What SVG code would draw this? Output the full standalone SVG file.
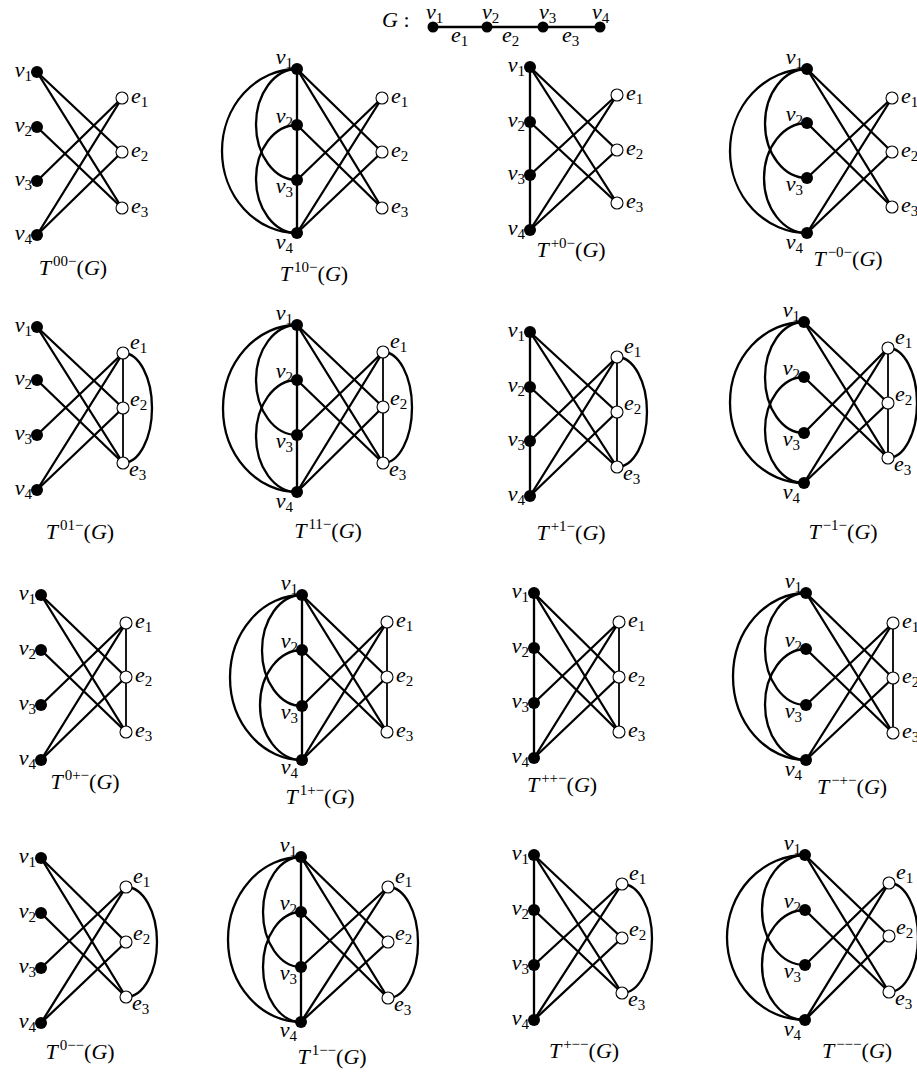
<svg xmlns="http://www.w3.org/2000/svg" width="917" height="1073" viewBox="0 0 917 1073">
<style>
.ln{stroke:#000;stroke-width:2.3;fill:none;stroke-linecap:round}
.le{stroke:#000;stroke-width:1.8;fill:none}
.v{fill:#000}
.e{fill:#fff;stroke:#000;stroke-width:1.1}
.m{font-family:"Liberation Serif",serif;font-style:italic;font-size:22px;fill:#000}
.s{font-style:normal;font-size:15px}
.p{font-style:normal;font-size:15px}
.u{font-style:normal}
.r{text-anchor:end}
.c{text-anchor:middle}
</style>
<rect width="917" height="1073" fill="#fff"/>
<g id="connectors">
<g id="c-G"><path class="ln" d="M433 27H600"/></g>
<g id="c-p1">
<path class="ln" d="M37 72L122 152"/><path class="ln" d="M37 72L122 208"/><path class="ln" d="M37 127L122 208"/><path class="ln" d="M37 181L122 98"/><path class="ln" d="M37 235L122 98"/><path class="ln" d="M37 235L122 152"/>
</g>
<g id="c-p2">
<path class="ln" d="M297 69L382 152"/><path class="ln" d="M297 69L382 208"/><path class="ln" d="M297 125L382 208"/><path class="ln" d="M297 180L382 98"/><path class="ln" d="M297 233L382 98"/><path class="ln" d="M297 233L382 152"/>
<path class="ln" d="M297 69V233"/><path class="ln" d="M297 69A41 55.5 0 0 0 297 180"/><path class="ln" d="M297 125A41 54 0 0 0 297 233"/><path class="ln" d="M297 69A75 82 0 0 0 297 233"/>
</g>
<g id="c-p3">
<path class="ln" d="M530 67L617 150"/><path class="ln" d="M530 67L617 203"/><path class="ln" d="M530 122L617 203"/><path class="ln" d="M530 175L617 95"/><path class="ln" d="M530 230L617 95"/><path class="ln" d="M530 230L617 150"/>
<path class="ln" d="M530 67V230"/>
</g>
<g id="c-p4">
<path class="ln" d="M807 69L892 152"/><path class="ln" d="M807 69L892 207"/><path class="ln" d="M807 123L892 207"/><path class="ln" d="M807 178L892 98"/><path class="ln" d="M807 233L892 98"/><path class="ln" d="M807 233L892 152"/>
<path class="ln" d="M807 69A42 54.5 0 0 0 807 178"/><path class="ln" d="M807 123A43 55 0 0 0 807 233"/><path class="ln" d="M807 69A77 82 0 0 0 807 233"/>
</g>
<g id="c-p5">
<path class="ln" d="M37 327L123 408"/><path class="ln" d="M37 327L123 463"/><path class="ln" d="M37 380L123 463"/><path class="ln" d="M37 435L123 353"/><path class="ln" d="M37 490L123 353"/><path class="ln" d="M37 490L123 408"/>
<path class="le" d="M123 353V463"/><path class="ln" d="M123 353A29 55 0 0 1 123 463"/>
</g>
<g id="c-p6">
<path class="ln" d="M297 325L383 407"/><path class="ln" d="M297 325L383 463"/><path class="ln" d="M297 380L383 463"/><path class="ln" d="M297 435L383 352"/><path class="ln" d="M297 492L383 352"/><path class="ln" d="M297 492L383 407"/>
<path class="ln" d="M297 325V492"/><path class="ln" d="M297 325A41 55 0 0 0 297 435"/><path class="ln" d="M297 380A41 56 0 0 0 297 492"/><path class="ln" d="M297 325A74 83.5 0 0 0 297 492"/>
<path class="le" d="M383 352V463"/><path class="ln" d="M383 352A29 55.5 0 0 1 383 463"/>
</g>
<g id="c-p7">
<path class="ln" d="M530 332L617 412"/><path class="ln" d="M530 332L617 467"/><path class="ln" d="M530 387L617 467"/><path class="ln" d="M530 441L617 357"/><path class="ln" d="M530 496L617 357"/><path class="ln" d="M530 496L617 412"/>
<path class="ln" d="M530 332V496"/>
<path class="le" d="M617 357V467"/><path class="ln" d="M617 357A30 55 0 0 1 617 467"/>
</g>
<g id="c-p8">
<path class="ln" d="M804 322L888 403"/><path class="ln" d="M804 322L888 458"/><path class="ln" d="M804 377L888 458"/><path class="ln" d="M804 433L888 348"/><path class="ln" d="M804 483L888 348"/><path class="ln" d="M804 483L888 403"/>
<path class="ln" d="M804 322A39 55.5 0 0 0 804 433"/><path class="ln" d="M804 377A39 53 0 0 0 804 483"/><path class="ln" d="M804 322A74 80.5 0 0 0 804 483"/>
<path class="le" d="M888 348V458"/><path class="ln" d="M888 348A29 55 0 0 1 888 458"/>
</g>
<g id="c-p9">
<path class="ln" d="M41 595L126 677"/><path class="ln" d="M41 595L126 732"/><path class="ln" d="M41 650L126 732"/><path class="ln" d="M41 705L126 623"/><path class="ln" d="M41 760L126 623"/><path class="ln" d="M41 760L126 677"/>
<path class="le" d="M126 623V732"/>
</g>
<g id="c-p10">
<path class="ln" d="M302 595L387 677"/><path class="ln" d="M302 595L387 732"/><path class="ln" d="M302 650L387 732"/><path class="ln" d="M302 706L387 622"/><path class="ln" d="M302 760L387 622"/><path class="ln" d="M302 760L387 677"/>
<path class="ln" d="M302 595V760"/><path class="ln" d="M302 595A40 55.5 0 0 0 302 706"/><path class="ln" d="M302 650A42 55 0 0 0 302 760"/><path class="ln" d="M302 595A72 82.5 0 0 0 302 760"/>
<path class="le" d="M387 622V732"/>
</g>
<g id="c-p11">
<path class="ln" d="M534 593L619 677"/><path class="ln" d="M534 593L619 732"/><path class="ln" d="M534 648L619 732"/><path class="ln" d="M534 703L619 622"/><path class="ln" d="M534 758L619 622"/><path class="ln" d="M534 758L619 677"/>
<path class="ln" d="M534 593V758"/>
<path class="le" d="M619 622V732"/>
</g>
<g id="c-p12">
<path class="ln" d="M806 593L893 678"/><path class="ln" d="M806 593L893 733"/><path class="ln" d="M806 649L893 733"/><path class="ln" d="M806 705L893 623"/><path class="ln" d="M806 760L893 623"/><path class="ln" d="M806 760L893 678"/>
<path class="ln" d="M806 593A41 56 0 0 0 806 705"/><path class="ln" d="M806 649A41 55.5 0 0 0 806 760"/><path class="ln" d="M806 593A73 83.5 0 0 0 806 760"/>
<path class="le" d="M893 623V733"/>
</g>
<g id="c-p13">
<path class="ln" d="M41 858L126 942"/><path class="ln" d="M41 858L126 997"/><path class="ln" d="M41 913L126 997"/><path class="ln" d="M41 968L126 887"/><path class="ln" d="M41 1023L126 887"/><path class="ln" d="M41 1023L126 942"/>
<path class="ln" d="M126 887A31 55 0 0 1 126 997"/>
</g>
<g id="c-p14">
<path class="ln" d="M301 857L388 942"/><path class="ln" d="M301 857L388 998"/><path class="ln" d="M301 912L388 998"/><path class="ln" d="M301 967L388 887"/><path class="ln" d="M301 1022L388 887"/><path class="ln" d="M301 1022L388 942"/>
<path class="ln" d="M301 857V1022"/><path class="ln" d="M301 857A38 55 0 0 0 301 967"/><path class="ln" d="M301 912A38 55 0 0 0 301 1022"/><path class="ln" d="M301 857A73 82.5 0 0 0 301 1022"/>
<path class="ln" d="M388 887A30 55.5 0 0 1 388 998"/>
</g>
<g id="c-p15">
<path class="ln" d="M534 855L622 938"/><path class="ln" d="M534 855L622 993"/><path class="ln" d="M534 910L622 993"/><path class="ln" d="M534 965L622 884"/><path class="ln" d="M534 1020L622 884"/><path class="ln" d="M534 1020L622 938"/>
<path class="ln" d="M534 855V1020"/>
<path class="ln" d="M622 884A30 54.5 0 0 1 622 993"/>
</g>
<g id="c-p16">
<path class="ln" d="M805 855L889 936"/><path class="ln" d="M805 855L889 992"/><path class="ln" d="M805 910L889 992"/><path class="ln" d="M805 965L889 883"/><path class="ln" d="M805 1020L889 883"/><path class="ln" d="M805 1020L889 936"/>
<path class="ln" d="M805 855A43 55 0 0 0 805 965"/><path class="ln" d="M805 910A43 55 0 0 0 805 1020"/><path class="ln" d="M805 855A78 82.5 0 0 0 805 1020"/>
<path class="ln" d="M889 883A29 54.5 0 0 1 889 992"/>
</g>
</g>

<g id="G">
<text class="m" x="382" y="27">G <tspan class="u">:</tspan></text>
<g id="G-v1"><circle class="v" cx="433" cy="27" r="5.5"/><text class="m" x="426" y="19">v<tspan class="s" dy="4">1</tspan></text></g>
<g id="G-v2"><circle class="v" cx="487" cy="27" r="5.5"/><text class="m" x="482" y="19">v<tspan class="s" dy="4">2</tspan></text></g>
<g id="G-v3"><circle class="v" cx="543" cy="27" r="5.5"/><text class="m" x="539" y="19">v<tspan class="s" dy="4">3</tspan></text></g>
<g id="G-v4"><circle class="v" cx="600" cy="27" r="5.5"/><text class="m" x="592" y="19">v<tspan class="s" dy="4">4</tspan></text></g>
<text class="m" x="451" y="42">e<tspan class="s" dy="4">1</tspan></text>
<text class="m" x="502" y="42">e<tspan class="s" dy="4">2</tspan></text>
<text class="m" x="562" y="42">e<tspan class="s" dy="4">3</tspan></text>
</g>

<g id="p1">
<g id="p1-v1"><circle class="v" cx="37" cy="72" r="6"/><text class="m r" x="32" y="77">v<tspan class="s" dy="4">1</tspan></text></g>
<g id="p1-v2"><circle class="v" cx="37" cy="127" r="6"/><text class="m r" x="32" y="132">v<tspan class="s" dy="4">2</tspan></text></g>
<g id="p1-v3"><circle class="v" cx="37" cy="181" r="6"/><text class="m r" x="32" y="186">v<tspan class="s" dy="4">3</tspan></text></g>
<g id="p1-v4"><circle class="v" cx="37" cy="235" r="6"/><text class="m r" x="32" y="240">v<tspan class="s" dy="4">4</tspan></text></g>
<g id="p1-e1"><circle class="e" cx="122" cy="98" r="6"/><text class="m" x="131" y="103">e<tspan class="s" dy="4">1</tspan></text></g>
<g id="p1-e2"><circle class="e" cx="122" cy="152" r="6"/><text class="m" x="131" y="157">e<tspan class="s" dy="4">2</tspan></text></g>
<g id="p1-e3"><circle class="e" cx="122" cy="208" r="6"/><text class="m" x="131" y="213">e<tspan class="s" dy="4">3</tspan></text></g>
<text class="m c" x="73" y="275">T<tspan class="p" dx="2" dy="-9">00−</tspan><tspan class="u" dy="9">(</tspan>G<tspan class="u">)</tspan></text>
</g>

<g id="p2">
<g id="p2-v1"><circle class="v" cx="297" cy="69" r="6"/><text class="m r" x="293" y="64">v<tspan class="s" dy="4">1</tspan></text></g>
<g id="p2-v2"><circle class="v" cx="297" cy="125" r="6"/><text class="m r" x="293" y="123">v<tspan class="s" dy="4">2</tspan></text></g>
<g id="p2-v3"><circle class="v" cx="297" cy="180" r="6"/><text class="m r" x="293" y="193">v<tspan class="s" dy="4">3</tspan></text></g>
<g id="p2-v4"><circle class="v" cx="297" cy="233" r="6"/><text class="m r" x="293" y="249">v<tspan class="s" dy="4">4</tspan></text></g>
<g id="p2-e1"><circle class="e" cx="382" cy="98" r="6"/><text class="m" x="391" y="103">e<tspan class="s" dy="4">1</tspan></text></g>
<g id="p2-e2"><circle class="e" cx="382" cy="152" r="6"/><text class="m" x="391" y="157">e<tspan class="s" dy="4">2</tspan></text></g>
<g id="p2-e3"><circle class="e" cx="382" cy="208" r="6"/><text class="m" x="391" y="213">e<tspan class="s" dy="4">3</tspan></text></g>
<text class="m c" x="314" y="281">T<tspan class="p" dx="2" dy="-9">10−</tspan><tspan class="u" dy="9">(</tspan>G<tspan class="u">)</tspan></text>
</g>

<g id="p3">
<g id="p3-v1"><circle class="v" cx="530" cy="67" r="6"/><text class="m r" x="525" y="72">v<tspan class="s" dy="4">1</tspan></text></g>
<g id="p3-v2"><circle class="v" cx="530" cy="122" r="6"/><text class="m r" x="525" y="127">v<tspan class="s" dy="4">2</tspan></text></g>
<g id="p3-v3"><circle class="v" cx="530" cy="175" r="6"/><text class="m r" x="525" y="180">v<tspan class="s" dy="4">3</tspan></text></g>
<g id="p3-v4"><circle class="v" cx="530" cy="230" r="6"/><text class="m r" x="525" y="235">v<tspan class="s" dy="4">4</tspan></text></g>
<g id="p3-e1"><circle class="e" cx="617" cy="95" r="6"/><text class="m" x="626" y="100">e<tspan class="s" dy="4">1</tspan></text></g>
<g id="p3-e2"><circle class="e" cx="617" cy="150" r="6"/><text class="m" x="626" y="155">e<tspan class="s" dy="4">2</tspan></text></g>
<g id="p3-e3"><circle class="e" cx="617" cy="203" r="6"/><text class="m" x="626" y="208">e<tspan class="s" dy="4">3</tspan></text></g>
<text class="m c" x="571" y="257">T<tspan class="p" dx="2" dy="-9">+0−</tspan><tspan class="u" dy="9">(</tspan>G<tspan class="u">)</tspan></text>
</g>

<g id="p4">
<g id="p4-v1"><circle class="v" cx="807" cy="69" r="6"/><text class="m r" x="803" y="64">v<tspan class="s" dy="4">1</tspan></text></g>
<g id="p4-v2"><circle class="v" cx="807" cy="123" r="6"/><text class="m r" x="803" y="121">v<tspan class="s" dy="4">2</tspan></text></g>
<g id="p4-v3"><circle class="v" cx="807" cy="178" r="6"/><text class="m r" x="803" y="191">v<tspan class="s" dy="4">3</tspan></text></g>
<g id="p4-v4"><circle class="v" cx="807" cy="233" r="6"/><text class="m r" x="803" y="249">v<tspan class="s" dy="4">4</tspan></text></g>
<g id="p4-e1"><circle class="e" cx="892" cy="98" r="6"/><text class="m" x="901" y="103">e<tspan class="s" dy="4">1</tspan></text></g>
<g id="p4-e2"><circle class="e" cx="892" cy="152" r="6"/><text class="m" x="901" y="157">e<tspan class="s" dy="4">2</tspan></text></g>
<g id="p4-e3"><circle class="e" cx="892" cy="207" r="6"/><text class="m" x="901" y="212">e<tspan class="s" dy="4">3</tspan></text></g>
<text class="m c" x="848" y="266">T<tspan class="p" dx="2" dy="-9">−0−</tspan><tspan class="u" dy="9">(</tspan>G<tspan class="u">)</tspan></text>
</g>

<g id="p5">
<g id="p5-v1"><circle class="v" cx="37" cy="327" r="6"/><text class="m r" x="32" y="332">v<tspan class="s" dy="4">1</tspan></text></g>
<g id="p5-v2"><circle class="v" cx="37" cy="380" r="6"/><text class="m r" x="32" y="385">v<tspan class="s" dy="4">2</tspan></text></g>
<g id="p5-v3"><circle class="v" cx="37" cy="435" r="6"/><text class="m r" x="32" y="440">v<tspan class="s" dy="4">3</tspan></text></g>
<g id="p5-v4"><circle class="v" cx="37" cy="490" r="6"/><text class="m r" x="32" y="495">v<tspan class="s" dy="4">4</tspan></text></g>
<g id="p5-e1"><circle class="e" cx="123" cy="353" r="6"/><text class="m" x="130" y="349">e<tspan class="s" dy="4">1</tspan></text></g>
<g id="p5-e2"><circle class="e" cx="123" cy="408" r="6"/><text class="m" x="130" y="406">e<tspan class="s" dy="4">2</tspan></text></g>
<g id="p5-e3"><circle class="e" cx="123" cy="463" r="6"/><text class="m" x="129" y="476">e<tspan class="s" dy="4">3</tspan></text></g>
<text class="m c" x="80" y="539">T<tspan class="p" dx="2" dy="-9">01−</tspan><tspan class="u" dy="9">(</tspan>G<tspan class="u">)</tspan></text>
</g>

<g id="p6">
<g id="p6-v1"><circle class="v" cx="297" cy="325" r="6"/><text class="m r" x="293" y="320">v<tspan class="s" dy="4">1</tspan></text></g>
<g id="p6-v2"><circle class="v" cx="297" cy="380" r="6"/><text class="m r" x="293" y="378">v<tspan class="s" dy="4">2</tspan></text></g>
<g id="p6-v3"><circle class="v" cx="297" cy="435" r="6"/><text class="m r" x="293" y="448">v<tspan class="s" dy="4">3</tspan></text></g>
<g id="p6-v4"><circle class="v" cx="297" cy="492" r="6"/><text class="m r" x="293" y="508">v<tspan class="s" dy="4">4</tspan></text></g>
<g id="p6-e1"><circle class="e" cx="383" cy="352" r="6"/><text class="m" x="390" y="348">e<tspan class="s" dy="4">1</tspan></text></g>
<g id="p6-e2"><circle class="e" cx="383" cy="407" r="6"/><text class="m" x="390" y="405">e<tspan class="s" dy="4">2</tspan></text></g>
<g id="p6-e3"><circle class="e" cx="383" cy="463" r="6"/><text class="m" x="389" y="476">e<tspan class="s" dy="4">3</tspan></text></g>
<text class="m c" x="328" y="538">T<tspan class="p" dx="2" dy="-9">11−</tspan><tspan class="u" dy="9">(</tspan>G<tspan class="u">)</tspan></text>
</g>

<g id="p7">
<g id="p7-v1"><circle class="v" cx="530" cy="332" r="6"/><text class="m r" x="525" y="337">v<tspan class="s" dy="4">1</tspan></text></g>
<g id="p7-v2"><circle class="v" cx="530" cy="387" r="6"/><text class="m r" x="525" y="392">v<tspan class="s" dy="4">2</tspan></text></g>
<g id="p7-v3"><circle class="v" cx="530" cy="441" r="6"/><text class="m r" x="525" y="446">v<tspan class="s" dy="4">3</tspan></text></g>
<g id="p7-v4"><circle class="v" cx="530" cy="496" r="6"/><text class="m r" x="525" y="501">v<tspan class="s" dy="4">4</tspan></text></g>
<g id="p7-e1"><circle class="e" cx="617" cy="357" r="6"/><text class="m" x="624" y="353">e<tspan class="s" dy="4">1</tspan></text></g>
<g id="p7-e2"><circle class="e" cx="617" cy="412" r="6"/><text class="m" x="624" y="410">e<tspan class="s" dy="4">2</tspan></text></g>
<g id="p7-e3"><circle class="e" cx="617" cy="467" r="6"/><text class="m" x="623" y="480">e<tspan class="s" dy="4">3</tspan></text></g>
<text class="m c" x="571" y="540">T<tspan class="p" dx="2" dy="-9">+1−</tspan><tspan class="u" dy="9">(</tspan>G<tspan class="u">)</tspan></text>
</g>

<g id="p8">
<g id="p8-v1"><circle class="v" cx="804" cy="322" r="6"/><text class="m r" x="800" y="317">v<tspan class="s" dy="4">1</tspan></text></g>
<g id="p8-v2"><circle class="v" cx="804" cy="377" r="6"/><text class="m r" x="800" y="375">v<tspan class="s" dy="4">2</tspan></text></g>
<g id="p8-v3"><circle class="v" cx="804" cy="433" r="6"/><text class="m r" x="800" y="446">v<tspan class="s" dy="4">3</tspan></text></g>
<g id="p8-v4"><circle class="v" cx="804" cy="483" r="6"/><text class="m r" x="800" y="499">v<tspan class="s" dy="4">4</tspan></text></g>
<g id="p8-e1"><circle class="e" cx="888" cy="348" r="6"/><text class="m" x="895" y="344">e<tspan class="s" dy="4">1</tspan></text></g>
<g id="p8-e2"><circle class="e" cx="888" cy="403" r="6"/><text class="m" x="895" y="401">e<tspan class="s" dy="4">2</tspan></text></g>
<g id="p8-e3"><circle class="e" cx="888" cy="458" r="6"/><text class="m" x="894" y="471">e<tspan class="s" dy="4">3</tspan></text></g>
<text class="m c" x="843" y="539">T<tspan class="p" dx="2" dy="-9">−1−</tspan><tspan class="u" dy="9">(</tspan>G<tspan class="u">)</tspan></text>
</g>

<g id="p9">
<g id="p9-v1"><circle class="v" cx="41" cy="595" r="6"/><text class="m r" x="36" y="600">v<tspan class="s" dy="4">1</tspan></text></g>
<g id="p9-v2"><circle class="v" cx="41" cy="650" r="6"/><text class="m r" x="36" y="655">v<tspan class="s" dy="4">2</tspan></text></g>
<g id="p9-v3"><circle class="v" cx="41" cy="705" r="6"/><text class="m r" x="36" y="710">v<tspan class="s" dy="4">3</tspan></text></g>
<g id="p9-v4"><circle class="v" cx="41" cy="760" r="6"/><text class="m r" x="36" y="765">v<tspan class="s" dy="4">4</tspan></text></g>
<g id="p9-e1"><circle class="e" cx="126" cy="623" r="6"/><text class="m" x="135" y="628">e<tspan class="s" dy="4">1</tspan></text></g>
<g id="p9-e2"><circle class="e" cx="126" cy="677" r="6"/><text class="m" x="135" y="682">e<tspan class="s" dy="4">2</tspan></text></g>
<g id="p9-e3"><circle class="e" cx="126" cy="732" r="6"/><text class="m" x="135" y="737">e<tspan class="s" dy="4">3</tspan></text></g>
<text class="m c" x="85" y="789">T<tspan class="p" dx="2" dy="-9">0+−</tspan><tspan class="u" dy="9">(</tspan>G<tspan class="u">)</tspan></text>
</g>

<g id="p10">
<g id="p10-v1"><circle class="v" cx="302" cy="595" r="6"/><text class="m r" x="298" y="590">v<tspan class="s" dy="4">1</tspan></text></g>
<g id="p10-v2"><circle class="v" cx="302" cy="650" r="6"/><text class="m r" x="298" y="648">v<tspan class="s" dy="4">2</tspan></text></g>
<g id="p10-v3"><circle class="v" cx="302" cy="706" r="6"/><text class="m r" x="298" y="719">v<tspan class="s" dy="4">3</tspan></text></g>
<g id="p10-v4"><circle class="v" cx="302" cy="760" r="6"/><text class="m r" x="298" y="774">v<tspan class="s" dy="4">4</tspan></text></g>
<g id="p10-e1"><circle class="e" cx="387" cy="622" r="6"/><text class="m" x="396" y="627">e<tspan class="s" dy="4">1</tspan></text></g>
<g id="p10-e2"><circle class="e" cx="387" cy="677" r="6"/><text class="m" x="396" y="682">e<tspan class="s" dy="4">2</tspan></text></g>
<g id="p10-e3"><circle class="e" cx="387" cy="732" r="6"/><text class="m" x="396" y="737">e<tspan class="s" dy="4">3</tspan></text></g>
<text class="m c" x="320" y="804">T<tspan class="p" dx="2" dy="-9">1+−</tspan><tspan class="u" dy="9">(</tspan>G<tspan class="u">)</tspan></text>
</g>

<g id="p11">
<g id="p11-v1"><circle class="v" cx="534" cy="593" r="6"/><text class="m r" x="529" y="598">v<tspan class="s" dy="4">1</tspan></text></g>
<g id="p11-v2"><circle class="v" cx="534" cy="648" r="6"/><text class="m r" x="529" y="653">v<tspan class="s" dy="4">2</tspan></text></g>
<g id="p11-v3"><circle class="v" cx="534" cy="703" r="6"/><text class="m r" x="529" y="708">v<tspan class="s" dy="4">3</tspan></text></g>
<g id="p11-v4"><circle class="v" cx="534" cy="758" r="6"/><text class="m r" x="529" y="763">v<tspan class="s" dy="4">4</tspan></text></g>
<g id="p11-e1"><circle class="e" cx="619" cy="622" r="6"/><text class="m" x="628" y="627">e<tspan class="s" dy="4">1</tspan></text></g>
<g id="p11-e2"><circle class="e" cx="619" cy="677" r="6"/><text class="m" x="628" y="682">e<tspan class="s" dy="4">2</tspan></text></g>
<g id="p11-e3"><circle class="e" cx="619" cy="732" r="6"/><text class="m" x="628" y="737">e<tspan class="s" dy="4">3</tspan></text></g>
<text class="m c" x="562" y="792">T<tspan class="p" dx="2" dy="-9">++−</tspan><tspan class="u" dy="9">(</tspan>G<tspan class="u">)</tspan></text>
</g>

<g id="p12">
<g id="p12-v1"><circle class="v" cx="806" cy="593" r="6"/><text class="m r" x="802" y="588">v<tspan class="s" dy="4">1</tspan></text></g>
<g id="p12-v2"><circle class="v" cx="806" cy="649" r="6"/><text class="m r" x="802" y="647">v<tspan class="s" dy="4">2</tspan></text></g>
<g id="p12-v3"><circle class="v" cx="806" cy="705" r="6"/><text class="m r" x="802" y="718">v<tspan class="s" dy="4">3</tspan></text></g>
<g id="p12-v4"><circle class="v" cx="806" cy="760" r="6"/><text class="m r" x="802" y="776">v<tspan class="s" dy="4">4</tspan></text></g>
<g id="p12-e1"><circle class="e" cx="893" cy="623" r="6"/><text class="m" x="902" y="628">e<tspan class="s" dy="4">1</tspan></text></g>
<g id="p12-e2"><circle class="e" cx="893" cy="678" r="6"/><text class="m" x="902" y="683">e<tspan class="s" dy="4">2</tspan></text></g>
<g id="p12-e3"><circle class="e" cx="893" cy="733" r="6"/><text class="m" x="902" y="738">e<tspan class="s" dy="4">3</tspan></text></g>
<text class="m c" x="852" y="794">T<tspan class="p" dx="2" dy="-9">−+−</tspan><tspan class="u" dy="9">(</tspan>G<tspan class="u">)</tspan></text>
</g>

<g id="p13">
<g id="p13-v1"><circle class="v" cx="41" cy="858" r="6"/><text class="m r" x="36" y="863">v<tspan class="s" dy="4">1</tspan></text></g>
<g id="p13-v2"><circle class="v" cx="41" cy="913" r="6"/><text class="m r" x="36" y="918">v<tspan class="s" dy="4">2</tspan></text></g>
<g id="p13-v3"><circle class="v" cx="41" cy="968" r="6"/><text class="m r" x="36" y="973">v<tspan class="s" dy="4">3</tspan></text></g>
<g id="p13-v4"><circle class="v" cx="41" cy="1023" r="6"/><text class="m r" x="36" y="1028">v<tspan class="s" dy="4">4</tspan></text></g>
<g id="p13-e1"><circle class="e" cx="126" cy="887" r="6"/><text class="m" x="133" y="883">e<tspan class="s" dy="4">1</tspan></text></g>
<g id="p13-e2"><circle class="e" cx="126" cy="942" r="6"/><text class="m" x="133" y="940">e<tspan class="s" dy="4">2</tspan></text></g>
<g id="p13-e3"><circle class="e" cx="126" cy="997" r="6"/><text class="m" x="132" y="1010">e<tspan class="s" dy="4">3</tspan></text></g>
<text class="m c" x="80" y="1059">T<tspan class="p" dx="2" dy="-9">0−−</tspan><tspan class="u" dy="9">(</tspan>G<tspan class="u">)</tspan></text>
</g>

<g id="p14">
<g id="p14-v1"><circle class="v" cx="301" cy="857" r="6"/><text class="m r" x="297" y="852">v<tspan class="s" dy="4">1</tspan></text></g>
<g id="p14-v2"><circle class="v" cx="301" cy="912" r="6"/><text class="m r" x="297" y="910">v<tspan class="s" dy="4">2</tspan></text></g>
<g id="p14-v3"><circle class="v" cx="301" cy="967" r="6"/><text class="m r" x="297" y="980">v<tspan class="s" dy="4">3</tspan></text></g>
<g id="p14-v4"><circle class="v" cx="301" cy="1022" r="6"/><text class="m r" x="297" y="1037">v<tspan class="s" dy="4">4</tspan></text></g>
<g id="p14-e1"><circle class="e" cx="388" cy="887" r="6"/><text class="m" x="395" y="883">e<tspan class="s" dy="4">1</tspan></text></g>
<g id="p14-e2"><circle class="e" cx="388" cy="942" r="6"/><text class="m" x="395" y="940">e<tspan class="s" dy="4">2</tspan></text></g>
<g id="p14-e3"><circle class="e" cx="388" cy="998" r="6"/><text class="m" x="394" y="1011">e<tspan class="s" dy="4">3</tspan></text></g>
<text class="m c" x="332" y="1064">T<tspan class="p" dx="2" dy="-9">1−−</tspan><tspan class="u" dy="9">(</tspan>G<tspan class="u">)</tspan></text>
</g>

<g id="p15">
<g id="p15-v1"><circle class="v" cx="534" cy="855" r="6"/><text class="m r" x="529" y="860">v<tspan class="s" dy="4">1</tspan></text></g>
<g id="p15-v2"><circle class="v" cx="534" cy="910" r="6"/><text class="m r" x="529" y="915">v<tspan class="s" dy="4">2</tspan></text></g>
<g id="p15-v3"><circle class="v" cx="534" cy="965" r="6"/><text class="m r" x="529" y="970">v<tspan class="s" dy="4">3</tspan></text></g>
<g id="p15-v4"><circle class="v" cx="534" cy="1020" r="6"/><text class="m r" x="529" y="1025">v<tspan class="s" dy="4">4</tspan></text></g>
<g id="p15-e1"><circle class="e" cx="622" cy="884" r="6"/><text class="m" x="629" y="880">e<tspan class="s" dy="4">1</tspan></text></g>
<g id="p15-e2"><circle class="e" cx="622" cy="938" r="6"/><text class="m" x="629" y="936">e<tspan class="s" dy="4">2</tspan></text></g>
<g id="p15-e3"><circle class="e" cx="622" cy="993" r="6"/><text class="m" x="628" y="1006">e<tspan class="s" dy="4">3</tspan></text></g>
<text class="m c" x="584" y="1058">T<tspan class="p" dx="2" dy="-9">+−−</tspan><tspan class="u" dy="9">(</tspan>G<tspan class="u">)</tspan></text>
</g>

<g id="p16">
<g id="p16-v1"><circle class="v" cx="805" cy="855" r="6"/><text class="m r" x="801" y="850">v<tspan class="s" dy="4">1</tspan></text></g>
<g id="p16-v2"><circle class="v" cx="805" cy="910" r="6"/><text class="m r" x="801" y="908">v<tspan class="s" dy="4">2</tspan></text></g>
<g id="p16-v3"><circle class="v" cx="805" cy="965" r="6"/><text class="m r" x="801" y="978">v<tspan class="s" dy="4">3</tspan></text></g>
<g id="p16-v4"><circle class="v" cx="805" cy="1020" r="6"/><text class="m r" x="801" y="1036">v<tspan class="s" dy="4">4</tspan></text></g>
<g id="p16-e1"><circle class="e" cx="889" cy="883" r="6"/><text class="m" x="896" y="879">e<tspan class="s" dy="4">1</tspan></text></g>
<g id="p16-e2"><circle class="e" cx="889" cy="936" r="6"/><text class="m" x="896" y="934">e<tspan class="s" dy="4">2</tspan></text></g>
<g id="p16-e3"><circle class="e" cx="889" cy="992" r="6"/><text class="m" x="895" y="1005">e<tspan class="s" dy="4">3</tspan></text></g>
<text class="m c" x="857" y="1058">T<tspan class="p" dx="2" dy="-9">−−−</tspan><tspan class="u" dy="9">(</tspan>G<tspan class="u">)</tspan></text>
</g>
</svg>
